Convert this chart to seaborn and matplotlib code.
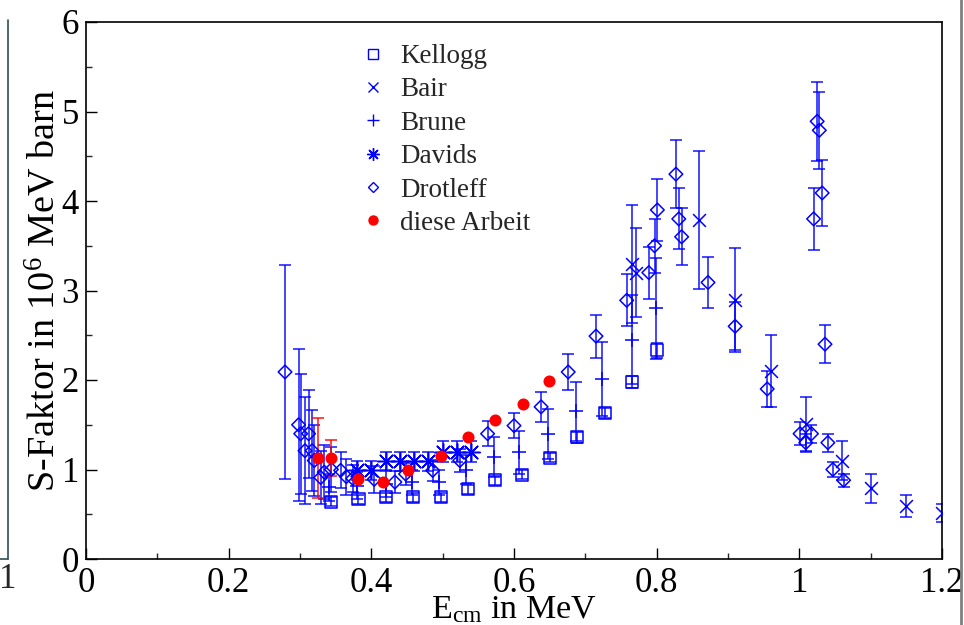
import numpy as np
import pandas as pd
import matplotlib
matplotlib.use("Agg")
import matplotlib.pyplot as plt
from matplotlib.lines import Line2D
import seaborn as sns

# ---------------- data ----------------
kellogg_x = [0.344, 0.382, 0.421, 0.459, 0.497, 0.536, 0.573, 0.611, 0.650, 0.688, 0.727, 0.765, 0.800]
kellogg_y = [0.64, 0.67, 0.69, 0.69, 0.69, 0.78, 0.88, 0.94, 1.13, 1.36, 1.63, 1.98, 2.33]
kellogg_e = [0.05, 0.05, 0.05, 0.05, 0.05, 0.05, 0.05, 0.05, 0.05, 0.06, 0.06, 0.07, 0.08]

bair_x = [0.765, 0.771, 0.860, 0.910, 0.960, 1.010, 1.060, 1.100, 1.150, 1.200]
bair_y = [3.30, 3.20, 3.79, 2.89, 2.10, 1.51, 1.10, 0.79, 0.59, 0.51]
bair_e = [0.66, 0.50, 0.77, 0.58, 0.40, 0.30, 0.22, 0.16, 0.12, 0.10]

brune_x = [0.340, 0.380, 0.420, 0.457, 0.495, 0.533, 0.572, 0.607, 0.647, 0.687, 0.724, 0.765, 0.799]
brune_y = [0.80, 0.82, 0.84, 0.86, 0.86, 1.00, 1.14, 1.19, 1.40, 1.65, 2.01, 2.45, 2.80]
brune_e = [0.15, 0.15, 0.15, 0.14, 0.14, 0.16, 0.22, 0.24, 0.28, 0.33, 0.41, 0.50, 0.56]

davids_x = [0.380, 0.400, 0.420, 0.440, 0.460, 0.480, 0.500, 0.520, 0.540]
davids_y = [0.99, 0.99, 1.09, 1.09, 1.09, 1.09, 1.20, 1.20, 1.20]
davids_e = [0.11, 0.11, 0.11, 0.11, 0.11, 0.11, 0.12, 0.12, 0.12]

drot_x = [0.279, 0.298, 0.301, 0.312, 0.307, 0.317, 0.320, 0.329, 0.334, 0.344, 0.357, 0.365,
          0.374, 0.404, 0.433, 0.448, 0.486, 0.524, 0.563, 0.600, 0.638, 0.676, 0.715, 0.758,
          0.789, 0.797, 0.801, 0.827, 0.831, 0.835, 0.872, 0.910, 0.955, 1.001, 1.009, 1.017,
          1.020, 1.025, 1.028, 1.032, 1.036, 1.040, 1.047, 1.062]
drot_y = [2.09, 1.50, 1.40, 1.40, 1.21, 1.21, 1.10, 0.91, 0.97, 1.00, 0.99, 0.92,
          0.90, 0.89, 0.86, 0.95, 0.99, 1.10, 1.40, 1.49, 1.70, 2.09, 2.49, 2.89,
          3.20, 3.50, 3.90, 4.30, 3.80, 3.60, 3.09, 2.60, 1.90, 1.40, 1.30, 1.40,
          3.80, 4.89, 4.79, 4.09, 2.40, 1.30, 1.00, 0.88]
drot_e = [1.20, 0.85, 0.67, 0.49, 0.60, 0.45, 0.40, 0.30, 0.30, 0.25, 0.20, 0.20,
          0.15, 0.15, 0.12, 0.12, 0.12, 0.13, 0.14, 0.14, 0.17, 0.20, 0.24, 0.29,
          0.29, 0.30, 0.35, 0.38, 0.34, 0.32, 0.28, 0.27, 0.20, 0.13, 0.10, 0.10,
          0.35, 0.44, 0.43, 0.37, 0.21, 0.10, 0.08, 0.07]

diese_x = [0.325, 0.344, 0.382, 0.417, 0.452, 0.497, 0.536, 0.574, 0.612, 0.649]
diese_y = [1.13, 1.13, 0.89, 0.86, 0.99, 1.15, 1.36, 1.55, 1.73, 1.99]
diese_e = [0.45, 0.20, 0.0, 0.0, 0.0, 0.0, 0.0, 0.0, 0.0, 0.0]

x_tick_values = [0, 0.2, 0.4, 0.6, 0.8, 1.0, 1.2]
x_tick_labels = ["0", "0.2", "0.4", "0.6", "0.8", "1", "1.2"]
y_tick_values = [0, 1, 2, 3, 4, 5, 6]

series_names = ["Kellogg", "Bair", "Brune", "Davids", "Drotleff", "diese Arbeit"]

frames = []
for name, xs, ys, es in [
    ("Kellogg", kellogg_x, kellogg_y, kellogg_e),
    ("Bair", bair_x, bair_y, bair_e),
    ("Brune", brune_x, brune_y, brune_e),
    ("Davids", davids_x, davids_y, davids_e),
    ("Drotleff", drot_x, drot_y, drot_e),
    ("diese Arbeit", diese_x, diese_y, diese_e),
]:
    frames.append(pd.DataFrame({"E": xs, "S": ys, "err": es, "series": name}))
df = pd.concat(frames, ignore_index=True)

# ---------------- style ----------------
sns.set_theme(style="ticks")
plt.rcParams["font.family"] = ["Liberation Serif", "DejaVu Serif"]
plt.rcParams["mathtext.fontset"] = "custom"
plt.rcParams["mathtext.rm"] = "Liberation Serif"
plt.rcParams["mathtext.it"] = "Liberation Serif:italic"

BLUE = "#0000ff"
RED = "#ff0000"

styles = {
    "Kellogg": dict(marker="s", s=75, face="none", lw=1.1),
    "Bair": dict(marker="x", s=85, face=BLUE, lw=1.1),
    "Brune": dict(marker="+", s=110, face=BLUE, lw=1.1),
    "Davids": dict(marker=(8, 2, 0), s=160, face=BLUE, lw=1.1),
    "Drotleff": dict(marker="D", s=48, face="none", lw=1.1),
    "diese Arbeit": dict(marker="o", s=75, face=RED, lw=0),
}

fig = plt.figure(figsize=(9.64, 6.25), dpi=100)
ax = fig.add_axes([86 / 964, 1 - 559 / 625, (942 - 86) / 964, (559 - 22) / 625])

# error bars first
for name in series_names:
    sub = df[df["series"] == name]
    col = RED if name == "diese Arbeit" else BLUE
    m = sub["err"] > 0
    if m.any():
        ax.errorbar(sub["E"][m], sub["S"][m], yerr=sub["err"][m], fmt="none",
                    ecolor=col, elinewidth=1.2, capsize=4.2, capthick=1.2,
                    alpha=0.85, zorder=2)

# markers with seaborn
for name in series_names:
    sub = df[df["series"] == name]
    st = styles[name]
    col = RED if name == "diese Arbeit" else BLUE
    sns.scatterplot(data=sub, x="E", y="S", marker=st["marker"], s=st["s"],
                    color=col, facecolor=st["face"], edgecolor=col,
                    linewidth=st["lw"], ax=ax, zorder=4 if name == "diese Arbeit" else 3,
                    legend=False)

ax.set_xlim(0, 1.2)
ax.set_ylim(0, 6)
ax.set_xticks(x_tick_values)
ax.set_xticklabels(x_tick_labels)
ax.set_yticks(y_tick_values)
ax.set_xticks(np.arange(0.1, 1.2, 0.2), minor=True)
ax.set_yticks(np.arange(0.5, 6, 1.0), minor=True)
ax.tick_params(axis="both", which="major", direction="in", length=8, width=1,
               labelsize=25, pad=5, colors="black")
ax.tick_params(axis="x", which="major", pad=5.5)
ax.tick_params(axis="both", which="minor", direction="in", length=4.5, width=1)
for sp in ax.spines.values():
    sp.set_visible(True)
    sp.set_color("black")
    sp.set_linewidth(1.2)

ax.set_xlabel(r"E$_{\mathrm{cm}}$ in MeV", fontsize=24.5, color="black")
ax.xaxis.set_label_coords(0.5, -(594 - 559) / 537)
ax.set_ylabel(r"S-Faktor in 10$^{6}$ MeV barn", fontsize=27.5, labelpad=-1, color="black")

# legend
handles = [
    Line2D([], [], ls="none", marker="s", ms=6.5, mfc="none", mec=BLUE, mew=1.0),
    Line2D([], [], ls="none", marker="x", ms=7.5, mec=BLUE, mew=1.0),
    Line2D([], [], ls="none", marker="+", ms=8.5, mec=BLUE, mew=1.0),
    Line2D([], [], ls="none", marker=(8, 2, 0), ms=9, mec=BLUE, mew=1.0),
    Line2D([], [], ls="none", marker="D", ms=5.5, mfc="none", mec=BLUE, mew=1.0),
    Line2D([], [], ls="none", marker="o", ms=7.5, mfc=RED, mec=RED, mew=0),
]
leg = ax.legend(handles, series_names, loc="upper left",
                bbox_to_anchor=(362 / 964, 1 - 44 / 625), bbox_transform=fig.transFigure,
                frameon=False, fontsize=19.5, handlelength=0.8, handletextpad=0.6,
                labelspacing=0.31, borderpad=0, borderaxespad=0)

# fragments of neighbouring panels visible at the image edges
fig.add_artist(Line2D([8 / 964, 8 / 964], [1 - 20 / 625, 1 - 559 / 625],
                      transform=fig.transFigure, color="#2f4f4f", lw=1.2))
fig.add_artist(Line2D([0, 8 / 964], [1 - 559 / 625, 1 - 559 / 625],
                      transform=fig.transFigure, color="#2f4f4f", lw=1.2))
fig.text(8 / 964, 1 - 580 / 625, "1", fontsize=25, ha="center", va="center")
fig.add_artist(Line2D([961 / 964, 961 / 964], [0, 1], transform=fig.transFigure,
                      color="#808080", lw=2))

fig.savefig("out.png", dpi=100)
